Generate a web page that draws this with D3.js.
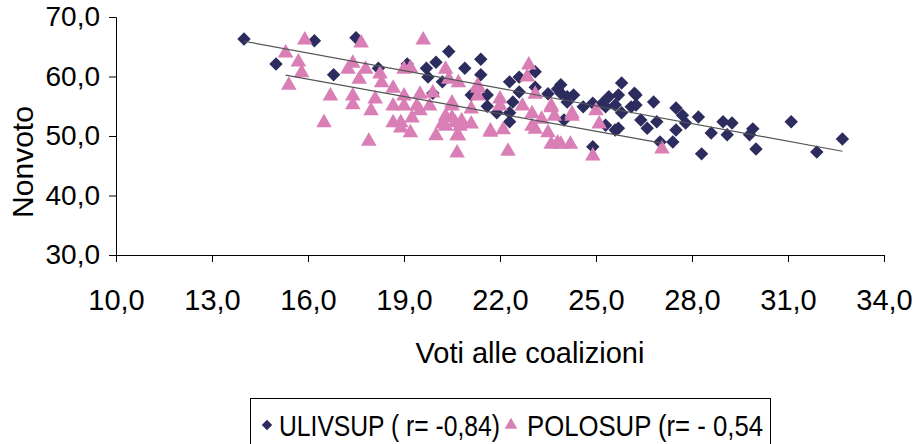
<!DOCTYPE html>
<html lang="it">
<head>
<meta charset="utf-8">
<script src="https://d3js.org/d3.v7.min.js"></script>
<style>
  body { margin: 0; background: #fff; }
  text { font-family: "Liberation Sans", Arial, sans-serif; fill: #000; }
</style>
</head>
<body>
<svg id="chart" width="918" height="444"></svg>
<script>
// ULIVSUP: [voti, nonvoto]
const ulivsup = [
  [14.0,66.3],[16.2,66.0],[15.0,62.1],[16.8,60.3],[17.5,66.5],[18.2,61.4],[19.1,62.1],[19.7,61.4],
  [20.0,62.4],[20.4,64.2],[19.75,59.9],[20.2,59.1],[19.9,57.2],[21.4,62.9],[20.9,61.4],[21.4,60.3],
  [21.1,56.9],[21.6,56.9],[21.6,55.0],[22.3,59.1],[22.6,59.9],[22.6,57.4],[23.1,60.8],[23.1,58.2],
  [22.4,55.7],[21.9,53.9],[22.3,53.9],[22.3,52.4],[23.5,57.1],[23.8,57.9],[25.8,58.9],[23.9,58.6],
  [24.1,56.6],[24.3,56.9],[24.6,54.9],[24.9,55.5],[25.2,55.5],[25.4,56.6],[25.7,56.9],[25.6,55.2],
  [25.8,53.9],[26.1,54.9],[26.25,56.9],[26.25,55.2],[26.8,55.7],[26.4,52.7],[26.6,51.3],[26.9,52.4],
  [24.0,52.7],[25.3,51.8],[25.6,51.0],[27.0,49.0],[24.9,48.2],[27.5,54.7],[27.7,53.5],[27.8,52.2],
  [28.2,53.2],[27.5,51.0],[27.4,49.0],[28.6,50.5],[28.97,52.4],[29.25,52.2],[29.1,50.2],[29.9,51.2],
  [29.8,50.2],[30.0,47.8],[28.3,47.0],[31.1,52.4],[32.7,49.5],[31.9,47.3],
  [23.9,57.2],[24.1,55.7],[25.3,54.9],[26.2,57.2],[25.7,51.3]
];

// POLOSUP: [voti, nonvoto]
const polosup = [
  [15.9,66.3],[15.3,64.1],[15.7,62.6],[15.8,60.8],[15.4,58.7],[16.7,56.9],[16.5,52.4],
  [17.66,65.8],[19.6,66.3],[17.4,62.4],[17.25,61.4],[17.8,61.4],[17.6,59.7],[18.25,60.6],[18.3,59.1],
  [19.0,61.4],[19.2,61.6],[17.4,56.9],[17.4,55.4],[18.1,56.4],[17.97,54.4],[18.66,58.2],[18.66,55.2],
  [19.0,56.9],[19.5,57.2],[19.0,55.2],[19.4,55.2],[19.8,55.2],[18.66,52.4],[18.9,52.4],[19.25,53.2],
  [18.9,51.5],[19.2,50.7],[20.0,50.2],[17.9,49.3],[20.3,53.5],[20.3,51.8],[19.9,57.4],
  [20.3,61.4],[20.7,59.1],[20.4,59.7],[20.66,50.2],[20.75,51.8],[20.5,53.2],[20.2,52.2],[20.8,52.7],
  [20.5,55.7],[19.5,54.4],
  [22.9,62.1],[22.85,60.1],[21.3,58.6],[21.3,56.9],[22.0,56.4],[22.0,55.2],[22.7,55.2],[23.1,57.2],
  [21.1,54.7],[20.5,55.2],[20.6,52.4],[21.1,52.2],[20.7,50.2],[21.7,50.8],[22.1,51.2],[23.0,53.9],
  [23.0,51.8],[23.3,53.0],[23.6,54.9],[23.5,50.7],[23.6,48.8],[20.66,47.3],[22.25,47.6],
  [21.3,58.2],[23.6,55.2],[23.7,53.5],[24.25,53.5],[23.1,51.3],[23.8,49.0],[21.7,51.0],
  [24.25,53.9],[25.0,54.4],[25.1,52.2],[23.9,48.8],[24.2,48.8],[24.9,46.8],[27.06,48.0]
];

const xTicks = [10, 13, 16, 19, 22, 25, 28, 31, 34];
const yTicks = [30, 40, 50, 60, 70];
const legendLabels = ["ULIVSUP ( r= -0,84)", "POLOSUP (r= - 0,54"];

const navy = "#2c2c5e";
const pink = "#d97fb6";

const svg = d3.select("#chart");
const m = { left: 116, right: 884, top: 17, bottom: 255 };

const x = d3.scaleLinear().domain([10, 34]).range([m.left, m.right]);
const y = d3.scaleLinear().domain([30, 70]).range([m.bottom, m.top]);
const fmt = d => d.toFixed(1).replace(".", ",");

// axes
svg.append("g")
  .attr("transform", `translate(0,${m.bottom})`)
  .call(d3.axisBottom(x).tickValues(xTicks).tickFormat(fmt).tickSize(7).tickPadding(27))
  .call(g => g.select(".domain").attr("stroke", "#000"))
  .call(g => g.selectAll(".tick line").attr("stroke", "#000"))
  .call(g => g.selectAll("text").attr("font-size", 29).attr("font-family", "Liberation Sans, Arial"));

svg.append("g")
  .attr("transform", `translate(${m.left},0)`)
  .call(d3.axisLeft(y).tickValues(yTicks).tickFormat(fmt).tickSize(7).tickPadding(9))
  .call(g => g.select(".domain").attr("stroke", "#000"))
  .call(g => g.selectAll(".tick line").attr("stroke", "#000"))
  .call(g => g.selectAll("text").attr("font-size", 28).attr("font-family", "Liberation Sans, Arial"));

// axis titles
svg.append("text")
  .attr("x", 530).attr("y", 363)
  .attr("text-anchor", "middle").attr("font-size", 29)
  .text("Voti alle coalizioni");

svg.append("text")
  .attr("transform", "translate(33,162) rotate(-90)")
  .attr("text-anchor", "middle").attr("font-size", 30)
  .text("Nonvoto");

// regression lines
function fit(data) {
  const mx = d3.mean(data, d => d[0]), my = d3.mean(data, d => d[1]);
  const b = d3.sum(data, d => (d[0] - mx) * (d[1] - my)) / d3.sum(data, d => (d[0] - mx) ** 2);
  const a = my - b * mx;
  const [x0, x1] = d3.extent(data, d => d[0]);
  return [[x0, a + b * x0], [x1, a + b * x1]];
}

const line = d3.line().x(d => x(d[0])).y(d => y(d[1]));

// points
const diamond = d3.symbol().type(d3.symbolDiamond2).size(115);
const triangle = d3.symbol().type(d3.symbolTriangle).size(105);

svg.append("g").selectAll("path")
  .data(ulivsup).join("path")
  .attr("d", diamond)
  .attr("fill", navy)
  .attr("transform", d => `translate(${x(d[0])},${y(d[1])})`);

svg.append("g").selectAll("path")
  .data(polosup).join("path")
  .attr("d", triangle)
  .attr("fill", pink)
  .attr("transform", d => `translate(${x(d[0])},${y(d[1]) + 1})`);

[ulivsup, polosup].forEach(s => {
  svg.append("path")
    .attr("d", line(fit(s)))
    .attr("fill", "none")
    .attr("stroke", "#555")
    .attr("stroke-width", 1.2);
});

// legend
const lg = svg.append("g");
lg.append("rect")
  .attr("x", 250.5).attr("y", 398.5)
  .attr("width", 520).attr("height", 60)
  .attr("fill", "#fff").attr("stroke", "#000");

lg.append("path")
  .attr("d", d3.symbol().type(d3.symbolDiamond2).size(70))
  .attr("fill", navy)
  .attr("transform", "translate(267,425)");
lg.append("text")
  .attr("x", 279).attr("y", 436).attr("font-size", 29)
  .attr("textLength", 221).attr("lengthAdjust", "spacingAndGlyphs")
  .text(legendLabels[0]);

lg.append("path")
  .attr("d", d3.symbol().type(d3.symbolTriangle).size(70))
  .attr("fill", pink)
  .attr("transform", "translate(511,425)");
lg.append("text")
  .attr("x", 527).attr("y", 436).attr("font-size", 29)
  .attr("textLength", 236).attr("lengthAdjust", "spacingAndGlyphs")
  .text(legendLabels[1]);
</script>
</body>
</html>
